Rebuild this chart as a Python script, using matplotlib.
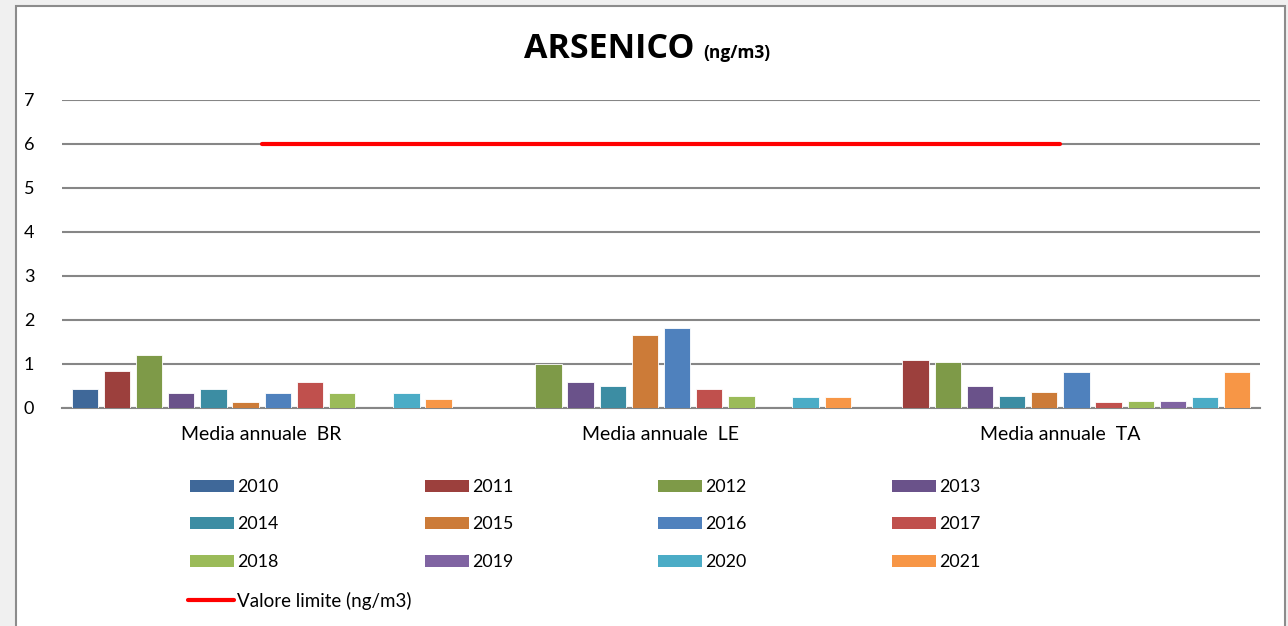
import numpy as np
import matplotlib
matplotlib.use("Agg")
import matplotlib.pyplot as plt
from matplotlib.patches import Rectangle
from matplotlib.lines import Line2D

plt.rcParams['font.family'] = ['Lato', 'DejaVu Sans']

categories = ["Media annuale  BR", "Media annuale  LE", "Media annuale  TA"]
years = ["2010", "2011", "2012", "2013", "2014", "2015",
         "2016", "2017", "2018", "2019", "2020", "2021"]
nan = np.nan
v2010 = [0.44, nan, nan]
v2011 = [0.85, nan, 1.09]
v2012 = [1.20, 1.00, 1.05]
v2013 = [0.33, 0.59, 0.51]
v2014 = [0.43, 0.51, 0.28]
v2015 = [0.13, 1.66, 0.36]
v2016 = [0.33, 1.81, 0.82]
v2017 = [0.60, 0.43, 0.13]
v2018 = [0.33, 0.28, 0.16]
v2019 = [nan, nan, 0.16]
v2020 = [0.33, 0.24, 0.24]
v2021 = [0.21, 0.24, 0.82]
limit_label = "Valore limite (ng/m3)"
limit_values = [6, 6, 6]

series = [v2010, v2011, v2012, v2013, v2014, v2015,
          v2016, v2017, v2018, v2019, v2020, v2021]
colors = ["#3F6899", "#9C403D", "#7E9A48", "#6A528A", "#3C8DA3", "#CC7B38",
          "#4F81BD", "#C0504D", "#9BBB59", "#8064A2", "#4BACC6", "#F79646"]

W, H = 1288, 626
fig = plt.figure(figsize=(W / 100, H / 100), dpi=100)
fig.patch.set_facecolor("#F0F0F0")

# chart area frame
fig.add_artist(Rectangle((16 / W, -0.01), (1285 - 16) / W, (H - 6) / H + 0.01,
                         transform=fig.transFigure, facecolor="white",
                         edgecolor="#8C8C8C", linewidth=1.5, zorder=0))

ax = fig.add_axes([62 / W, (H - 408) / H, (1260 - 62) / W, (408 - 100) / H])
ax.set_facecolor("none")
x = np.arange(len(categories))
slot = 0.0805
bw = 0.066
for i, (vals, c) in enumerate(zip(series, colors)):
    ax.bar(x + (i - 5.5) * slot, vals, width=bw, color=c,
           edgecolor="white", linewidth=0.6, zorder=3)

ax.plot(x, limit_values, color="#FF0000", linewidth=3.0,
        solid_capstyle="round", zorder=4)

ax.set_xlim(-0.5, 2.5)
ax.set_ylim(0, 7)
ax.set_yticks(range(0, 8))
ax.set_xticks(x)
ax.set_xticklabels(categories, fontsize=14)
ax.tick_params(axis="both", length=0, labelsize=13, colors="black")
ax.tick_params(axis="x", labelsize=14)
ax.tick_params(axis="y", pad=20)
ax.tick_params(axis="x", pad=13)
ax.grid(axis="y", color="#868686", linewidth=1.5, zorder=0)
for s in ["top", "right", "left"]:
    ax.spines[s].set_visible(False)
ax.spines["bottom"].set_color("#868686")
ax.spines["bottom"].set_linewidth(1.5)

# title
fig.text(524 / W, 1 - 58 / H, "ARSENICO", fontsize=24.5, fontweight="bold",
         family=["Open Sans", "DejaVu Sans"], ha="left", va="baseline")
fig.text(703 / W, 1 - 58 / H, "(ng/m3)", fontsize=12.5, fontweight="bold",
         family=["Open Sans", "DejaVu Sans"], ha="left", va="baseline")

# legend (row-major, 4 columns)
col_x = [190, 425, 658, 892]
row_y = [486, 523, 561, 600]
for i, (lab, c) in enumerate(zip(years, colors)):
    r, cidx = divmod(i, 4)
    x0, yc = col_x[cidx], row_y[r]
    fig.add_artist(Rectangle((x0 / W, 1 - (yc + 6) / H), 44 / W, 12 / H,
                             transform=fig.transFigure, facecolor=c,
                             edgecolor="none"))
    fig.text((x0 + 47) / W, 1 - (yc + 1) / H, lab, fontsize=12.8,
             ha="left", va="center")
yc = row_y[3]
fig.add_artist(Line2D([188 / W, 234 / W], [1 - yc / H, 1 - yc / H],
                      transform=fig.transFigure, color="#FF0000",
                      linewidth=3.0, solid_capstyle="round"))
fig.text(237 / W, 1 - (yc + 1) / H, limit_label, fontsize=13.5,
         ha="left", va="center")

fig.savefig("out.png", dpi=100, facecolor=fig.get_facecolor())
